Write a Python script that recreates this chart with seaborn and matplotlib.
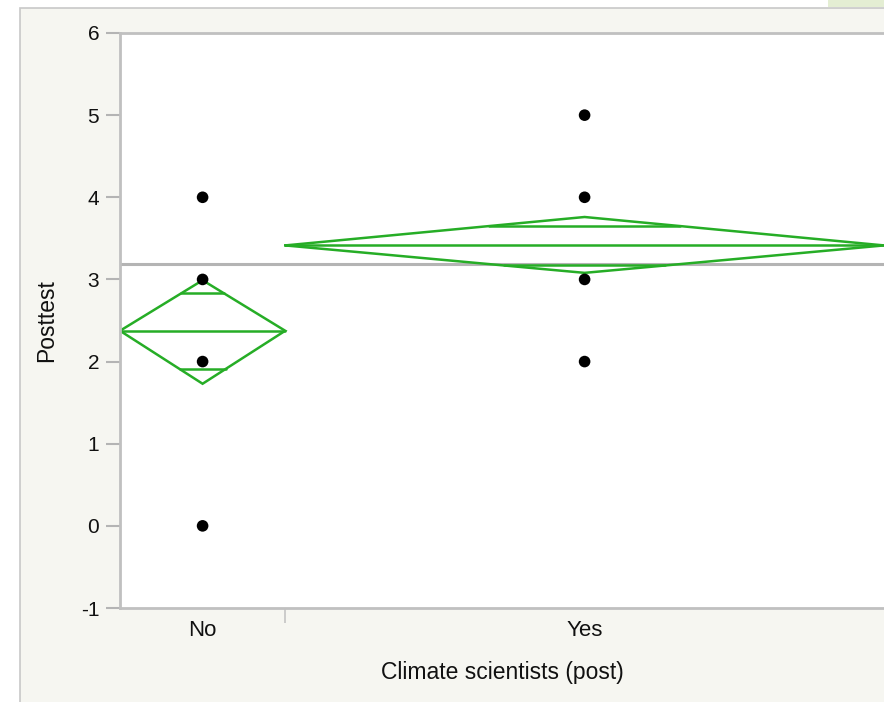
import matplotlib
matplotlib.use("Agg")
import matplotlib.pyplot as plt
import matplotlib.patches as mpatches
import numpy as np
import pandas as pd
import seaborn as sns

# ---- data ----
groups = ["No", "Yes"]
group_counts = [8, 29]
no_points = [4, 3, 2, 0]
yes_points = [5, 4, 3, 2]
group_means = [2.375, 3.414]
ci_upper = [2.99, 3.76]
ci_lower = [1.73, 3.08]
overlap_upper = [2.83, 3.65]
overlap_lower = [1.91, 3.17]
grand_mean = 3.19
y_ticks = [-1, 0, 1, 2, 3, 4, 5, 6]

sns.set_theme(style="white")
plt.rcParams["font.family"] = ["Liberation Sans", "DejaVu Sans"]

W, H = 884, 702
fig = plt.figure(figsize=(W / 100, H / 100), dpi=100)
fig.patch.set_facecolor("white")

# light panel background
panel = mpatches.Rectangle((20 / W, -0.05), 1.1, (H - 8) / H + 0.05, transform=fig.transFigure,
                           facecolor="#f6f6f1", edgecolor="#c8c8c8", linewidth=1.2, zorder=-10)
fig.patches.append(panel)
fig.patches.append(mpatches.Rectangle((828 / W, (H - 7) / H), 56 / W, 7 / H, transform=fig.transFigure,
                                      facecolor="#e4eed3", edgecolor="none", zorder=-10))

ax = fig.add_axes([120 / W, (H - 608) / H, (W - 120) / W, (608 - 33) / H])
ax.set_zorder(5)
ax.set_facecolor("white")

# positions from counts
edges = np.concatenate([[0], np.cumsum(group_counts)])
centers = (edges[:-1] + edges[1:]) / 2

df = pd.DataFrame({
    "group": ["No"] * len(no_points) + ["Yes"] * len(yes_points),
    "Posttest": no_points + yes_points,
})
df["xpos"] = df["group"].map(dict(zip(groups, centers)))

green = "#26ad26"
lw = 1.8
# grand mean line
ax.axhline(grand_mean, color="#b4b4b4", linewidth=2.2, zorder=1)

for i in range(len(groups)):
    x0, x1, xc = edges[i], edges[i + 1], centers[i]
    m = group_means[i]
    ax.plot([x0, xc, x1, xc, x0], [m, ci_upper[i], m, ci_lower[i], m],
            color=green, linewidth=lw, zorder=2, solid_joinstyle="miter")
    ax.plot([x0, x1], [m, m], color=green, linewidth=lw, zorder=2)
    half = (x1 - x0) / 2
    for ov, ci in ((overlap_upper[i], ci_upper[i]), (overlap_lower[i], ci_lower[i])):
        frac = (ov - m) / (ci - m)
        hw = half * (1 - frac)
        ax.plot([xc - hw, xc + hw], [ov, ov], color=green, linewidth=lw, zorder=2)

sns.scatterplot(data=df, x="xpos", y="Posttest", color="black", s=70,
                edgecolor="none", ax=ax, zorder=3, legend=False)

ax.set_xlim(0, 37)
ax.set_ylim(-1, 6)
ax.set_yticks(y_ticks)
ax.set_yticklabels([str(v) for v in y_ticks])
ax.set_xticks(edges[1:-1])
ax.set_xticklabels([])
ax.set_xticks(centers, minor=True)
ax.set_xticklabels(groups, minor=True)

ax.tick_params(axis="y", which="major", direction="out", length=10, width=1.5,
               color="#b4b4b4", labelsize=15, labelcolor="#111111", pad=5, left=True)
ax.tick_params(axis="x", which="major", direction="out", length=11, width=1.2,
               color="#c4c4c4", bottom=True)
ax.tick_params(axis="x", which="minor", length=0, labelsize=16, labelcolor="#111111", pad=9)

for s in ["left", "bottom", "top"]:
    ax.spines[s].set_visible(True)
    ax.spines[s].set_color("#c0c0c0")
    ax.spines[s].set_linewidth(2)
ax.spines["right"].set_visible(False)

ax.set_xlabel("Climate scientists (post)", fontsize=16.5, color="#111111", labelpad=14)
ax.set_ylabel("Posttest", fontsize=16.5, color="#111111", labelpad=16)

fig.savefig("out.png", dpi=100)
